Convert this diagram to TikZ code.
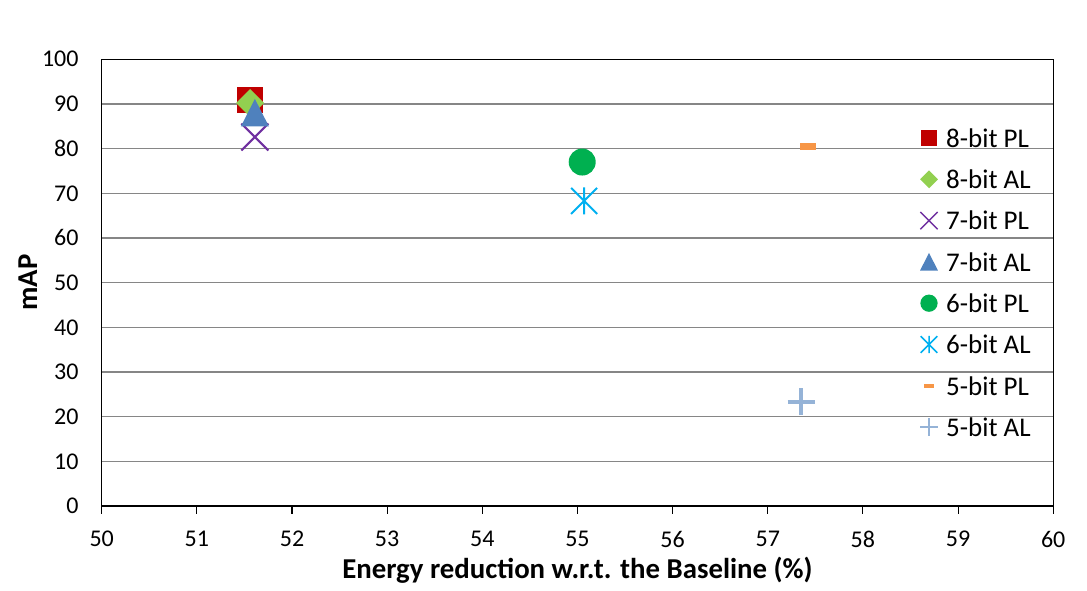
\documentclass[tikz,border=0pt]{standalone}
\usepackage{fontspec}
\setmainfont{Carlito}
\usetikzlibrary{positioning}

\definecolor{pleight}{HTML}{C00000}
\definecolor{aleight}{HTML}{92D050}
\definecolor{plseven}{HTML}{7030A0}
\definecolor{alseven}{HTML}{4F81BD}
\definecolor{plsix}{HTML}{00B050}
\definecolor{alsix}{HTML}{00B0F0}
\definecolor{plfive}{HTML}{F79646}
\definecolor{alfive}{HTML}{95B3D7}
\definecolor{gridgray}{HTML}{868686}

\tikzset{
    pics/mksquare/.style={code={\fill (-13pt,-13pt) rectangle (13pt,13pt);}},
    pics/mkdiamond/.style={code={\fill (0,14pt) -- (14pt,0) -- (0,-14pt)
        -- (-14pt,0) -- cycle;}},
    pics/mkcross/.style={code={\draw (-13.5pt,-13.5pt) -- (13.5pt,13.5pt)
        (-13.5pt,13.5pt) -- (13.5pt,-13.5pt);}},
    pics/mktriangle/.style={code={\fill (0,14pt) -- (14pt,-13.5pt)
        -- (-14pt,-13.5pt) -- cycle;}},
    pics/mkcircle/.style={code={\fill (0,0) circle (13.5pt);}},
    pics/mkstar/.style={code={\draw (0,-13.5pt) -- (0,13.5pt)
        (-13pt,-13pt) -- (13pt,13pt) (-13pt,13pt) -- (13pt,-13pt);}},
    pics/mkdash/.style={code={\fill (-8pt,-3.5pt) rectangle (8pt,3.5pt);}},
    pics/mkplus/.style={code={\draw (0,-13.5pt) -- (0,13.5pt)
        (-13.5pt,0) -- (13.5pt,0);}},
}

\begin{document}
\begin{tikzpicture}[x=1pt,y=1pt]
    \tikzstyle{ticklabel}=[font=\fontsize{24}{28}\selectfont, inner sep=0pt]
    \tikzstyle{legtext}=[font=\fontsize{27}{32}\selectfont, inner sep=0pt,
        anchor=west]
    \tikzstyle{axtitle}=[font=\bfseries\fontsize{28.8}{34}\selectfont,
        inner sep=0pt]

    \useasboundingbox (0,0) rectangle (1087,591);

    \begin{scope}[x=95.15pt, y=4.467pt, shift={(-4655.8pt,85pt)}]
        % grid and frame
        \foreach \m in {10,20,...,90}
            \draw[gridgray, line width=1.1pt] (50,\m) -- (60,\m);
        \draw[black, line width=1.1pt] (50,0) rectangle (60,100);

        \foreach \e in {50,...,60}
        {
            \draw[line width=1.1pt] (\e,0) -- ++(0,-8pt);
            \node[ticklabel] (xt\e) at ([yshift=-33pt]\e,0) {\e};
        }
        \foreach \m in {0,10,...,100}
            \node[ticklabel, anchor=east] (yt\m) at ([xshift=-23pt]50,\m)
            {\m};

        \node[axtitle] (xtitle) at ([yshift=-64pt]55,0)
        {Energy reduction w.r.t. the Baseline (\%)};
        \node[axtitle, rotate=90] (ytitle) at ([xshift=-74pt]50,50) {mAP};

        % data points
        \pic[pleight] at (51.56,90.9) {mksquare};
        \pic[aleight] at (51.56,90.2) {mkdiamond};
        \pic[plseven, line width=2pt] at (51.61,82.6) {mkcross};
        \pic[alseven] at (51.61,88.0) {mktriangle};
        \pic[plsix] at (55.05,77.0) {mkcircle};
        \pic[alsix, line width=2pt] at (55.07,68.3) {mkstar};
        \pic[plfive] at (57.42,80.4) {mkdash};
        \pic[alfive, line width=4pt] at (57.35,23.3) {mkplus};
    \end{scope}

    % legend
    \foreach \mk/\col/\lw/\lab [count=\i] in
        {mksquare/pleight/1/8-bit PL, mkdiamond/aleight/1/8-bit AL,
         mkcross/plseven/1.5/7-bit PL, mktriangle/alseven/1/7-bit AL,
         mkcircle/plsix/1/6-bit PL, mkstar/alsix/1.5/6-bit AL,
         mkdash/plfive/1/5-bit PL, mkplus/alfive/2.5/5-bit AL}
    {
        \pic[\col, line width=\lw pt, scale=0.64]
            at (929,{453-41.3*(\i-1)}) {\mk};
        \node[legtext] (leg\i) at (946,{453-41.3*(\i-1)}) {\lab};
    }
\end{tikzpicture}
\end{document}
